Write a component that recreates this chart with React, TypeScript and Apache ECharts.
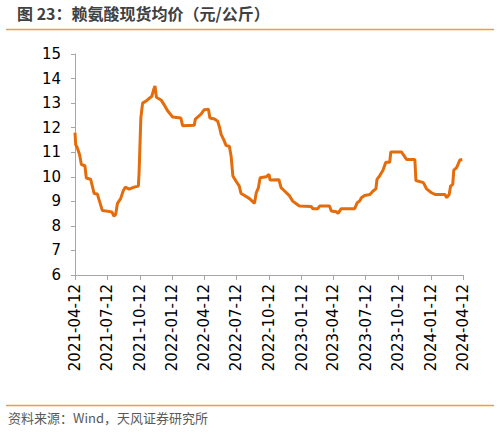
import { useEffect, useRef } from "react";
import * as echarts from "echarts";

const TITLE = "图 23：赖氨酸现货均价（元/公斤）";
const SOURCE = "资料来源：Wind，天风证券研究所";

const TICK_DATES = [
  "2021-04-12", "2021-07-12", "2021-10-12", "2022-01-12", "2022-04-12",
  "2022-07-12", "2022-10-12", "2023-01-12", "2023-04-12", "2023-07-12",
  "2023-10-12", "2024-01-12", "2024-04-12",
];

const DATES = [
  "2021-04-12", "2021-04-14", "2021-04-18", "2021-04-25", "2021-04-30", "2021-05-10",
  "2021-05-14", "2021-05-26", "2021-05-31", "2021-06-05", "2021-06-14", "2021-06-21",
  "2021-06-28", "2021-07-25", "2021-07-31", "2021-08-05", "2021-08-10", "2021-08-19",
  "2021-08-26", "2021-09-01", "2021-09-12", "2021-09-26", "2021-10-08", "2021-10-10",
  "2021-10-13", "2021-10-15", "2021-10-20", "2021-10-31", "2021-11-15", "2021-11-20",
  "2021-11-24", "2021-11-28", "2021-12-11", "2021-12-20", "2021-12-29", "2022-01-13",
  "2022-02-05", "2022-02-10", "2022-03-15", "2022-03-18", "2022-04-03", "2022-04-12",
  "2022-04-24", "2022-04-28", "2022-05-11", "2022-05-20", "2022-05-25", "2022-05-30",
  "2022-06-06", "2022-06-13", "2022-06-22", "2022-06-27", "2022-07-02", "2022-07-11",
  "2022-07-20", "2022-07-25", "2022-08-04", "2022-08-18", "2022-09-01", "2022-09-06",
  "2022-09-12", "2022-09-17", "2022-10-04", "2022-10-12", "2022-10-15", "2022-11-09",
  "2022-11-15", "2022-11-25", "2022-12-09", "2022-12-18", "2022-12-28", "2023-01-06",
  "2023-02-08", "2023-02-13", "2023-02-27", "2023-03-04", "2023-04-01", "2023-04-06",
  "2023-04-20", "2023-04-25", "2023-05-04", "2023-06-11", "2023-06-18", "2023-06-25",
  "2023-06-30", "2023-07-09", "2023-07-24", "2023-08-02", "2023-08-10", "2023-08-13",
  "2023-08-21", "2023-08-30", "2023-09-07", "2023-09-18", "2023-09-21", "2023-10-21",
  "2023-11-05", "2023-11-28", "2023-12-01", "2023-12-22", "2023-12-31", "2024-01-14",
  "2024-01-24", "2024-02-21", "2024-02-26", "2024-03-04", "2024-03-08", "2024-03-14",
  "2024-03-17", "2024-03-25", "2024-03-30", "2024-04-03", "2024-04-10",
];

const PRICES = [
  11.8, 11.3, 11.2, 10.9, 10.5, 10.45,
  9.95, 9.9, 9.62, 9.32, 9.3, 8.97,
  8.63, 8.57, 8.4, 8.47, 8.92, 9.11,
  9.42, 9.58, 9.5, 9.58, 9.62, 10.16,
  11.5, 12.4, 13.0, 13.1, 13.28, 13.54,
  13.7, 13.24, 13.13, 12.93, 12.7, 12.43,
  12.39, 12.08, 12.1, 12.35, 12.55, 12.73,
  12.75, 12.39, 12.35, 12.26, 12.03, 11.72,
  11.51, 11.27, 11.24, 10.84, 10.03, 9.82,
  9.62, 9.32, 9.24, 9.11, 8.92, 9.35,
  9.55, 9.96, 10.0, 10.1, 9.87, 9.88,
  9.56, 9.42, 9.22, 9.01, 8.9, 8.81,
  8.79, 8.7, 8.7, 8.81, 8.81, 8.61,
  8.58, 8.51, 8.7, 8.7, 8.94, 9.01,
  9.15, 9.24, 9.28, 9.42, 9.51, 9.89,
  10.05, 10.27, 10.59, 10.59, 11.01, 11.01,
  10.7, 10.7, 9.85, 9.76, 9.51, 9.35,
  9.28, 9.28, 9.15, 9.28, 9.62, 9.69,
  10.27, 10.37, 10.54, 10.68, 10.7,
];

// dates are put on a plain value axis as timestamps, so the ticks can be pinned
const toTime = (d: string) => {
  const [y, m, day] = d.split("-").map(Number);
  return Date.UTC(y, m - 1, day);
};

const pad = (n: number) => (n < 10 ? "0" + n : "" + n);

const AXIS_COLOR = "#A6A6A6";
const LINE_COLOR = "#E46C0A";
const RULE_COLOR = "#F39A3C";

export default function App() {
  const chartEl = useRef<HTMLDivElement>(null);

  useEffect(() => {
    document.body.style.margin = "0";
    if (!chartEl.current) return;
    const chart = echarts.init(chartEl.current, undefined, { renderer: "svg" });

    const ticks = TICK_DATES.map(toTime);

    chart.setOption({
      animation: false,
      grid: { left: 75, right: 36, top: 54, bottom: 159 },
      xAxis: {
        type: "value",
        min: ticks[0],
        max: ticks[ticks.length - 1],
        splitLine: { show: false },
        axisLine: { lineStyle: { color: AXIS_COLOR, width: 1 } },
        axisTick: {
          show: true,
          length: 5,
          customValues: ticks,
          lineStyle: { color: AXIS_COLOR },
        },
        axisLabel: {
          customValues: ticks,
          rotate: 90,
          margin: 9,
          color: "#000",
          fontSize: 15,
          fontFamily: "DejaVu Sans",
          formatter: (v: number) => {
            const d = new Date(v);
            return d.getUTCFullYear() + "-" + pad(d.getUTCMonth() + 1) + "-" + pad(d.getUTCDate());
          },
        },
      },
      yAxis: {
        type: "value",
        min: 6,
        max: 15,
        interval: 1,
        splitLine: { show: false },
        axisLine: { show: true, lineStyle: { color: AXIS_COLOR, width: 1 } },
        axisTick: { show: true, length: 4, lineStyle: { color: AXIS_COLOR } },
        axisLabel: {
          color: "#000",
          fontSize: 15,
          margin: 14,
          fontFamily: "DejaVu Sans",
        },
      },
      series: [
        {
          type: "line",
          data: DATES.map((d, i) => [toTime(d), PRICES[i]]),
          showSymbol: false,
          symbol: "none",
          lineStyle: { color: LINE_COLOR, width: 3 },
        },
      ],
      graphic: [
        {
          type: "text",
          left: 17,
          top: 5,
          style: {
            text: TITLE,
            fontSize: 16,
            fontWeight: "bold",
            fill: "#404040",
            fontFamily: "Noto Sans CJK SC",
          },
        },
        {
          type: "line",
          shape: { x1: 6, y1: 29.5, x2: 494, y2: 29.5 },
          style: { stroke: RULE_COLOR, lineWidth: 1.5 },
        },
        {
          type: "line",
          shape: { x1: 6, y1: 405.5, x2: 494, y2: 405.5 },
          style: { stroke: RULE_COLOR, lineWidth: 1.5 },
        },
        {
          type: "text",
          left: 8,
          top: 411,
          style: {
            text: SOURCE,
            fontSize: 13,
            fill: "#595959",
            fontFamily: "Noto Sans CJK SC",
          },
        },
      ],
    });

    return () => chart.dispose();
  }, []);

  return <div ref={chartEl} style={{ width: 499, height: 434 }} />;
}
